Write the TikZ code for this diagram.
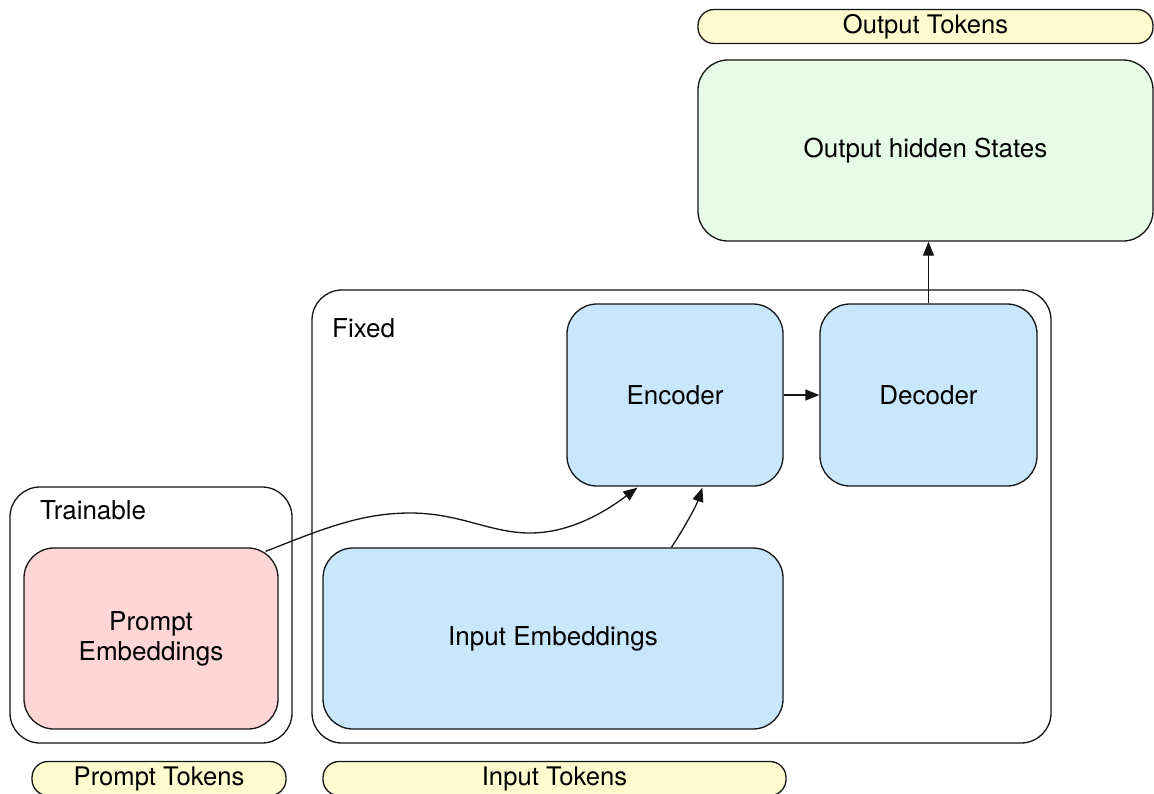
\documentclass[tikz,border=0pt]{standalone}
\usepackage{fontspec}
\setmainfont{TeX Gyre Heros}
\usetikzlibrary{arrows.meta,calc}

\definecolor{blockblue}{RGB}{200,230,252}
\definecolor{blockpink}{RGB}{255,214,214}
\definecolor{blockgreen}{RGB}{230,252,230}
\definecolor{tokyellow}{RGB}{255,251,206}
\definecolor{edge}{RGB}{20,20,20}

\tikzset{
  box/.style={draw=edge, line width=1.3pt, rounded corners=30pt, align=center,
    inner sep=0pt, font=\fontsize{26}{30}\selectfont},
  block/.style={box, fill=blockblue},
  frame/.style={box, fill=none},
  pill/.style={draw=edge, line width=1.3pt, rounded corners=16pt, fill=tokyellow,
    inner sep=0pt, minimum height=34pt, font=\fontsize{25.6}{30}\selectfont},
  caption/.style={anchor=base west, inner sep=0pt, font=\fontsize{26}{30}\selectfont},
  link/.style={draw=edge, line width=1.3pt, -{Triangle[length=14pt,width=11pt]}},
}

\begin{document}
\begin{tikzpicture}[x=1pt,y=-1pt]
  \useasboundingbox (0,0) rectangle (1154,793);

  % containers
  \node[frame, minimum width=739pt, minimum height=453pt] (fixed) at (681.5,516.5) {};
  \node[caption] (fixedlbl) at (332,337) {Fixed};
  \node[frame, minimum width=282pt, minimum height=256pt] (trainable) at (151,615) {};
  \node[caption] (trainlbl) at (40,519) {Trainable};

  % output side
  \node[pill, minimum width=455pt] (outtok) at (925.5,26.5) {Output Tokens};
  \node[box, fill=blockgreen, minimum width=455pt, minimum height=181pt] (outstates)
    at (925.5,150.5) {Output hidden States};

  % model blocks
  \node[block, minimum width=216pt, minimum height=182pt] (encoder) at (675,395) {Encoder};
  \node[block, minimum width=217pt, minimum height=182pt] (decoder) at (928.5,395) {Decoder};
  \node[block, minimum width=460pt, minimum height=181pt] (inemb) at (553,638.5) {Input Embeddings};
  \node[box, fill=blockpink, minimum width=254pt, minimum height=181pt] (prompt)
    at (151,638.5) {Prompt\\Embeddings};

  % input tokens
  \node[pill, minimum width=254pt] (prompttok) at (159,778.5) {Prompt Tokens};
  \node[pill, minimum width=463pt] (intok) at (554.5,778.5) {Input Tokens};

  % connectors
  \draw[link] (decoder.north) -- (decoder.north |- outstates.south);
  \draw[link] (encoder.east) -- (decoder.west);

  \coordinate (instart) at ($(inemb.north west)+(349,0)$);
  \coordinate (inend) at ($(encoder.south west)+(136,1)$);
  \draw[link] (instart) .. controls ($(instart)+(11,-16)$) and ($(inend)+(-6,18)$) .. (inend);

  \coordinate (pstart) at ($(prompt.north east)+(-13,4)$);
  \coordinate (pend) at ($(encoder.south west)+(71,1)$);
  \coordinate (ppeak) at (410,513);
  \coordinate (ptrough) at (530,533);
  \draw[link] (pstart) .. controls (320,530) and (360,513) .. (ppeak)
    .. controls (460,513) and (490,533) .. (ptrough)
    .. controls (570,533) and (605,512) .. (pend);
\end{tikzpicture}
\end{document}
